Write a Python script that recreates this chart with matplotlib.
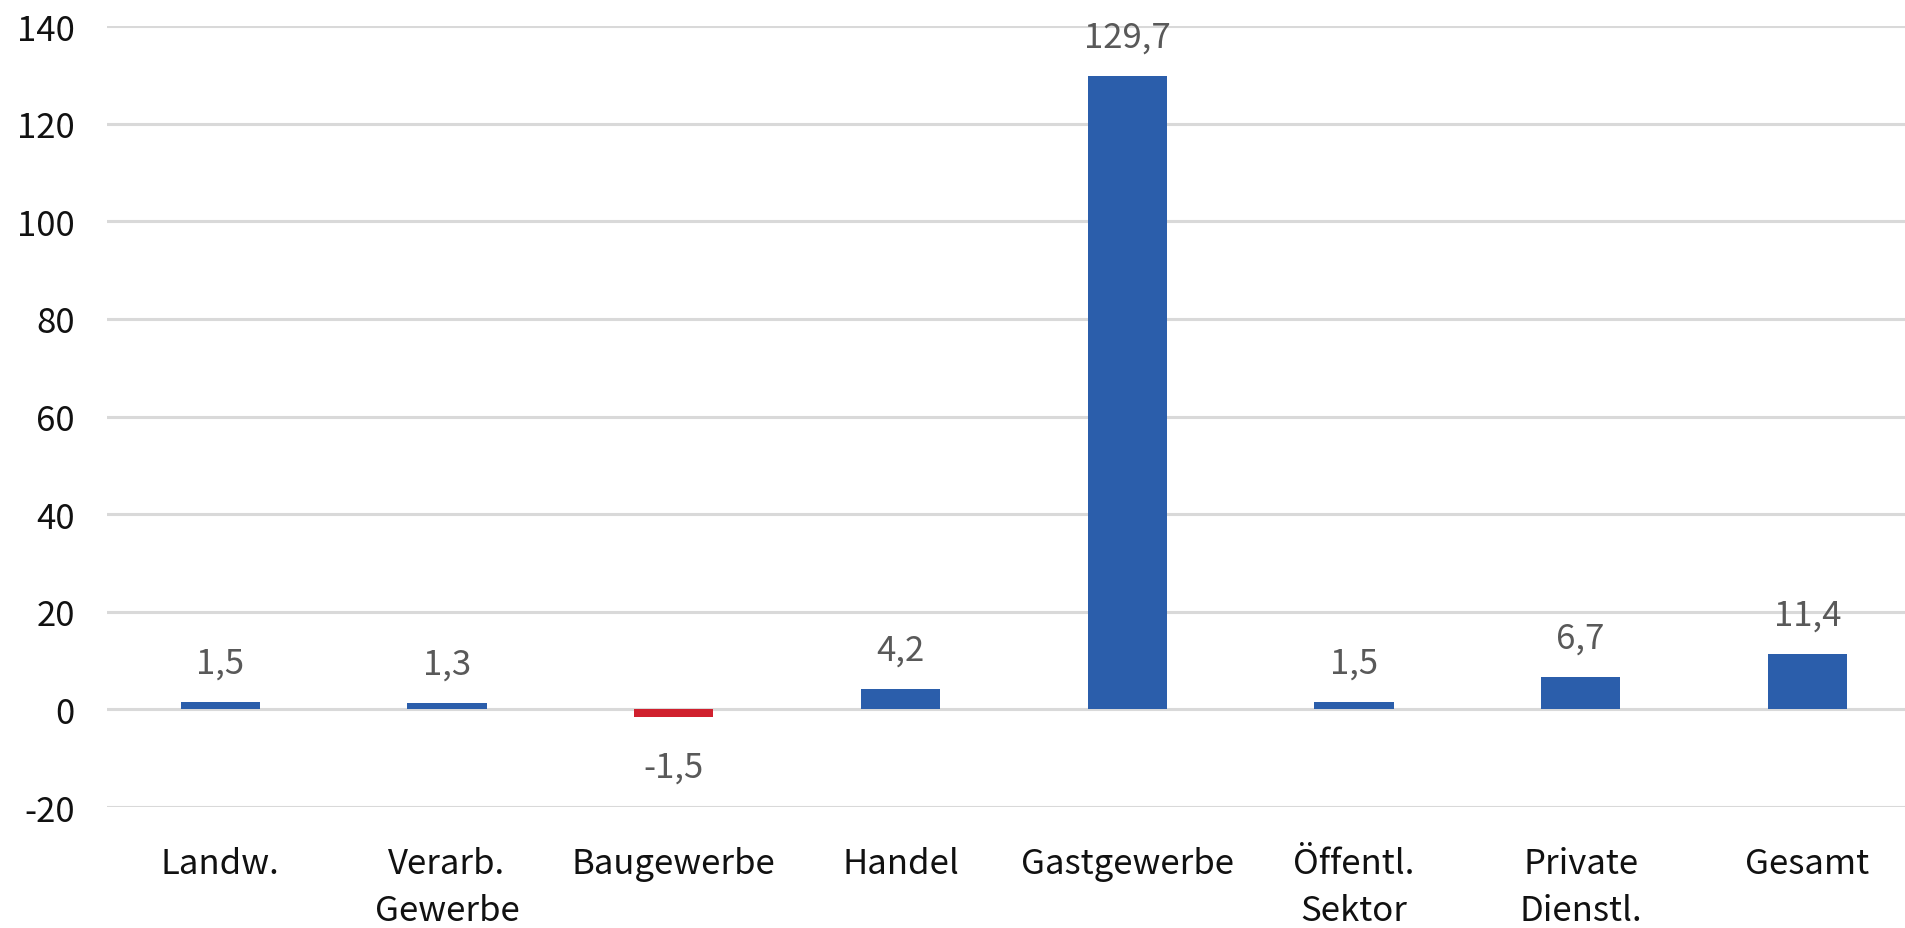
import numpy as np
from matplotlib import pyplot as plt

# values
categories = ["Landw.", "Verarb.\nGewerbe", "Baugewerbe", "Handel", "Gastgewerbe",
              "Öffentl.\nSektor", "Private\nDienstl.", "Gesamt"]
values = [1.5, 1.3, -1.5, 4.2, 129.7, 1.5, 6.7, 11.4]
y_ticks = [-20, 0, 20, 40, 60, 80, 100, 120, 140]

blue = "#2B5EAB"
red = "#D0202E"

plt.rcParams['font.family'] = ['Noto Sans CJK SC', 'DejaVu Sans']
plt.rcParams['font.weight'] = 'light'

fig = plt.figure(figsize=(19.06, 9.29), dpi=100)
ax = fig.add_axes([0.0561, 0.1302, 0.9439, 0.8407])

x = np.arange(len(categories))
colors = [blue if v >= 0 else red for v in values]
ax.bar(x, values, width=0.35, color=colors, zorder=3)

for xi, v in zip(x, values):
    label = ("%.1f" % v).replace(".", ",")
    off = 28 if v >= 0 else -36
    ax.annotate(label, (xi, v), xytext=(0, off), textcoords='offset points',
                ha='center', va='center', fontsize=25, color='#595959',
                fontweight='light', annotation_clip=False, zorder=4)

ax.set_ylim(-20, 140)
ax.set_xlim(-0.5, 7.435)
ax.set_yticks(y_ticks)
ax.set_yticklabels([str(t) for t in y_ticks])
ax.set_xticks(x)
ax.set_xticklabels(categories, linespacing=1.45)

ax.grid(axis='y', color='#D9D9D9', linewidth=2.2, zorder=0)
ax.set_axisbelow(True)
for s in ax.spines.values():
    s.set_visible(False)
ax.tick_params(axis='both', length=0, labelsize=25, colors='#111111')
ax.tick_params(axis='y', pad=23)
ax.tick_params(axis='x', pad=28)

fig.savefig("out.png", dpi=100)
